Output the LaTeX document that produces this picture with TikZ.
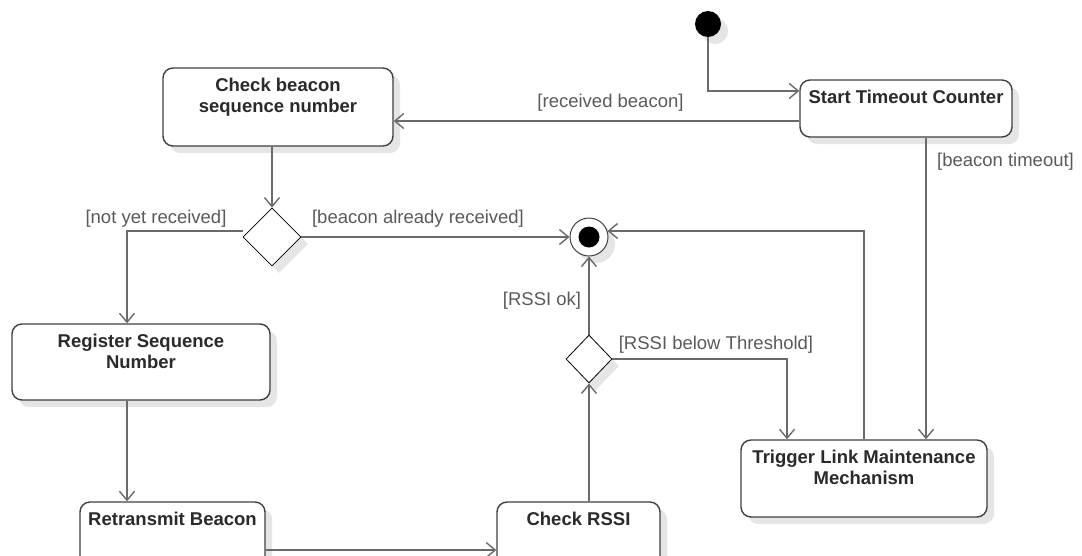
\documentclass[tikz,border=0pt]{standalone}
\usepackage{fontspec}
\setmainfont{Liberation Sans}
\usetikzlibrary{arrows.meta,shapes.geometric,shadows}
\definecolor{linec}{HTML}{6A6A6A}
\definecolor{boxc}{HTML}{404040}
\definecolor{txtc}{HTML}{2A2A2A}
\definecolor{lblc}{HTML}{5A5A5A}
\begin{document}
\begin{tikzpicture}[x=1pt,y=-1pt,
  shadowed/.style={drop shadow={shadow xshift=7pt,shadow yshift=-7pt,opacity=0.1,fill=black}},
  actbox/.style={draw=boxc,line width=1.4pt,rounded corners=10pt,fill=white,shadowed,inner sep=0pt},
  boxtext/.style={font=\fontsize{18.5}{20.5}\selectfont\bfseries,text=txtc,align=center,inner sep=0pt,anchor=north},
  decision/.style={diamond,draw=black,line width=0.8pt,fill=white,shadowed,inner sep=0pt},
  flow/.style={draw=linec,line width=1.9pt,-{Straight Barb[length=9pt,width=15pt,line width=1.4pt]}},
  guard/.style={font=\fontsize{18.5}{20.5}\selectfont,text=lblc,inner sep=0pt}
]
\useasboundingbox (0,0) rectangle (1082,555);
\clip (0,0) rectangle (1082,555);

% nodes
\node[circle,fill=black,minimum size=26pt,inner sep=0pt,shadowed] (init) at (708,24) {};
\node[actbox,minimum width=212pt,minimum height=57pt] (start) at (906,108.5) {};
\node[boxtext] (startT) at ([yshift=-11pt]start.north) {Start Timeout Counter};
\node[actbox,minimum width=230pt,minimum height=78pt] (check) at (278,107) {};
\node[boxtext] (checkT) at ([yshift=-11pt]check.north) {Check beacon\\sequence number};
\node[decision,minimum width=58pt,minimum height=58pt] (dec1) at (272,237) {};
\node[circle,draw=boxc,line width=1pt,fill=white,minimum size=38pt,inner sep=0pt,shadowed] (final) at (589,237) {};
\node[circle,fill=black,minimum size=21pt,inner sep=0pt] (finalin) at (final) {};
\node[actbox,minimum width=258pt,minimum height=76pt] (register) at (141,362) {};
\node[boxtext] (registerT) at ([yshift=-11pt]register.north) {Register Sequence\\Number};
\node[actbox,minimum width=185pt,minimum height=78pt] (retransmit) at (172.5,541) {};
\node[boxtext] (retransmitT) at ([yshift=-11pt]retransmit.north) {Retransmit Beacon};
\node[actbox,minimum width=163pt,minimum height=78pt] (checkrssi) at (578.5,541) {};
\node[boxtext] (checkrssiT) at ([yshift=-11pt]checkrssi.north) {Check RSSI};
\node[decision,minimum width=46pt,minimum height=48pt] (dec2) at (589,359) {};
\node[actbox,minimum width=246pt,minimum height=77pt] (trigger) at (864,478.5) {};
\node[boxtext] (triggerT) at ([yshift=-11pt]trigger.north) {Trigger Link Maintenance\\Mechanism};

% connectors
\draw[flow] (init.south) |- ([yshift=17.5pt]start.west);
\draw[flow] ([yshift=-12.5pt]start.west) coordinate (a1) -- (check.east |- a1);
\draw[flow] (dec1.north |- check.south) -- (dec1.north);
\draw[flow] (dec1.east) -- (final.west);
\draw[flow] ([yshift=6pt]dec1.west) -| ([xshift=-14pt]register.north);
\draw[flow] ([xshift=-14pt]register.south) coordinate (b1) -- (retransmit.north -| b1);
\draw[flow] ([yshift=-9pt]retransmit.east) coordinate (c1) -- (checkrssi.west |- c1);
\draw[flow] (dec2.south |- checkrssi.north) -- (dec2.south);
\draw[flow] (dec2.north) -- (final.south);
\draw[flow] (dec2.east) -| ([xshift=-77pt]trigger.north);
\draw[flow] ([xshift=20pt]start.south) coordinate (d1) -- (trigger.north -| d1);
\draw[flow] (trigger.north) |- (final.18);

% guards
\node[guard] (g1) at (610.5,103) {[received beacon]};
\node[guard] (g2) at (418,219) {[beacon already received]};
\node[guard] (g3) at (156,219) {[not yet received]};
\node[guard] (g4) at (542,301) {[RSSI ok]};
\node[guard] (g5) at (716,345) {[RSSI below Threshold]};
\node[guard] (g6) at (1005.5,161.5) {[beacon timeout]};
\end{tikzpicture}
\end{document}
